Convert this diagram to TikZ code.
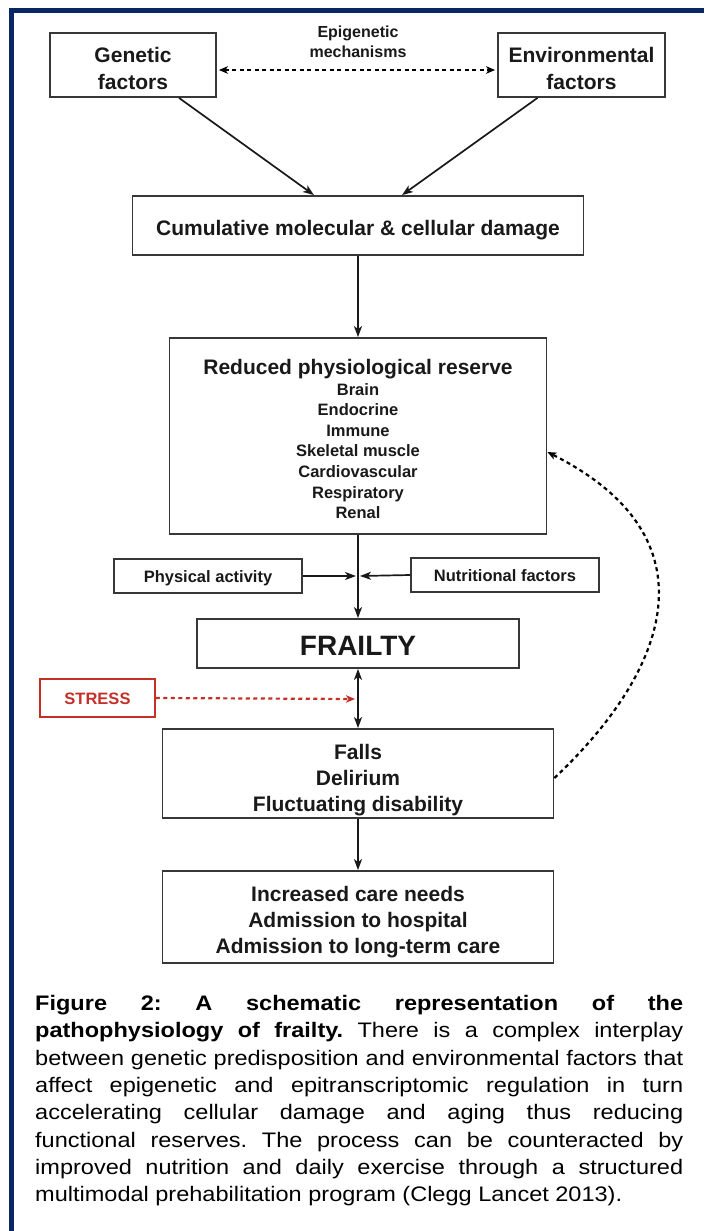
\documentclass[tikz,border=0pt]{standalone}
\usepackage{fontspec}
\setmainfont{Liberation Sans}
\newfontfamily\capfont{Liberation Sans}[FakeStretch=1.12]
\usetikzlibrary{arrows.meta}
\frenchspacing

\definecolor{framenavy}{RGB}{10,38,100}
\definecolor{boxline}{RGB}{55,55,55}
\definecolor{inkblack}{RGB}{25,25,25}
\definecolor{stressred}{RGB}{196,48,40}

\newcommand{\bigfont}{\fontsize{21}{26}\selectfont\bfseries}
\newcommand{\smallfont}{\fontsize{16.5}{20.6}\selectfont\bfseries}
\newcommand{\capline}[1]{\makebox[648pt][s]{#1}}

\tikzset{
  box/.style={draw=boxline, line width=1.8pt, inner sep=0pt},
  txt/.style={anchor=base, inner sep=0pt, text=inkblack, font=\bigfont},
  smalltxt/.style={anchor=base, inner sep=0pt, text=inkblack, font=\smallfont},
  flow/.style={-{Stealth[length=11pt,width=8pt,inset=3pt]}, line width=1.7pt, draw=inkblack},
  twoway/.style={{Stealth[length=11pt,width=8pt,inset=3pt]}-{Stealth[length=11pt,width=8pt,inset=3pt]}, line width=1.7pt, draw=inkblack},
  dashlink/.style={line width=2.2pt, dash pattern=on 4pt off 3.5pt},
  smalltip/.style={-{Stealth[length=9pt,width=7.5pt,inset=2.5pt]}},
}

\begin{document}
\begin{tikzpicture}[x=1pt,y=-1pt]
    \useasboundingbox (0,0) rectangle (704,1231);
    \fill[white] (0,0) rectangle (704,1231);
    \draw[framenavy, line width=5pt] (11.5,1231) -- (11.5,10.5) -- (704,10.5);

    \node[box, minimum width=166pt, minimum height=64pt] (gen) at (133,65) {};
    \node[box, minimum width=167pt, minimum height=64pt] (env) at (581.5,65) {};
    \node[box, minimum width=451pt, minimum height=59pt] (cum) at (358,225.5) {};
    \node[box, minimum width=377pt, minimum height=196pt] (res) at (358,436) {};
    \node[box, minimum width=188pt, minimum height=34pt] (phys) at (208,576) {};
    \node[box, minimum width=188pt, minimum height=34pt] (nutr) at (505,575) {};
    \node[box, minimum width=322pt, minimum height=49pt] (frail) at (358,643.5) {};
    \node[box, draw=stressred, line width=1.5pt, minimum width=115pt, minimum height=38pt] (stress) at (97.5,698) {};
    \node[box, minimum width=391pt, minimum height=89pt] (falls) at (358,773.5) {};
    \node[box, minimum width=391pt, minimum height=92pt] (care) at (358,917) {};

    \node[txt] (gen1) at (133,62.5) {Genetic};
    \node[txt] (gen2) at (133,89.5) {factors};
    \node[txt] (env1) at (581.5,62.5) {Environmental};
    \node[txt] (env2) at (581.5,89.5) {factors};
    \node[smalltxt, font=\fontsize{16}{20}\selectfont\bfseries] (epi1) at (358,38) {Epigenetic};
    \node[smalltxt, font=\fontsize{16}{20}\selectfont\bfseries] (epi2) at (358,58) {mechanisms};
    \node[txt] (cumtxt) at (358,235) {Cumulative molecular \& cellular damage};
    \node[txt] (restitle) at (358,374.5) {Reduced physiological reserve};
    \foreach \organ [count=\i] in {Brain,Endocrine,Immune,Skeletal muscle,Cardiovascular,Respiratory,Renal}
        \node[smalltxt] (organ\i) at (358,374.5+20.6*\i) {\organ};
    \node[smalltxt] (phystxt) at (208,582) {Physical activity};
    \node[smalltxt] (nutrtxt) at (505,581) {Nutritional factors};
    \node[txt, font=\fontsize{28}{32}\selectfont\bfseries] (frailtxt) at (358,655) {FRAILTY};
    \node[smalltxt, text=stressred] (stresstxt) at (97.5,704) {STRESS};
    \foreach \event [count=\i] in {Falls,Delirium,Fluctuating disability}
        \node[txt] (event\i) at (358,733.5+26*\i) {\event};
    \foreach \need [count=\i] in {Increased care needs,Admission to hospital,Admission to long-term care}
        \node[txt] (need\i) at (358,875+26.3*\i) {\need};

    \coordinate (meet) at (358,576);
    \coordinate (hit) at (355,699);

    \draw[dashlink, {Stealth[length=9pt,width=7.5pt,inset=2.5pt]}-{Stealth[length=9pt,width=7.5pt,inset=2.5pt]}, shorten <=2pt, shorten >=2pt] ([yshift=-5pt]gen.east) -- ([yshift=-5pt]env.west);
    \draw[flow] ([xshift=46pt]gen.south) -- ([xshift=-44pt]cum.north);
    \draw[flow] ([xshift=-44pt]env.south) -- ([xshift=44pt]cum.north);
    \draw[flow] (cum.south) -- (res.north);
    \draw[flow] (res.south) -- (frail.north);
    \draw[flow] (phys.east) -- ([xshift=-2pt]meet);
    \draw[flow] (nutr.west) -- ([xshift=2pt]meet);
    \draw[twoway] (frail.south) -- (falls.north);
    \draw[flow] (falls.south) -- (care.north);
    \draw[dashlink, smalltip, stressred] (stress.east) -- (hit);
    \draw[dashlink, smalltip] ([yshift=-4.5pt]falls.east) .. controls (668,671) and (718,538) .. ([yshift=-16pt]res.east);

    \node[anchor=north west, inner sep=0pt, align=left, text=black, font=\capfont\fontsize{21}{27.3}\selectfont] (caption) at (35,995.2) {%
        \capline{\textbf{Figure 2: A schematic representation of the}}\\
        \capline{\textbf{pathophysiology of frailty.} There is a complex interplay}\\
        \capline{between genetic predisposition and environmental factors that}\\
        \capline{affect epigenetic and epitranscriptomic regulation in turn}\\
        \capline{accelerating cellular damage and aging thus reducing}\\
        \capline{functional reserves. The process can be counteracted by}\\
        \capline{improved nutrition and daily exercise through a structured}\\
        multimodal prehabilitation program (Clegg Lancet 2013).};
\end{tikzpicture}
\end{document}
